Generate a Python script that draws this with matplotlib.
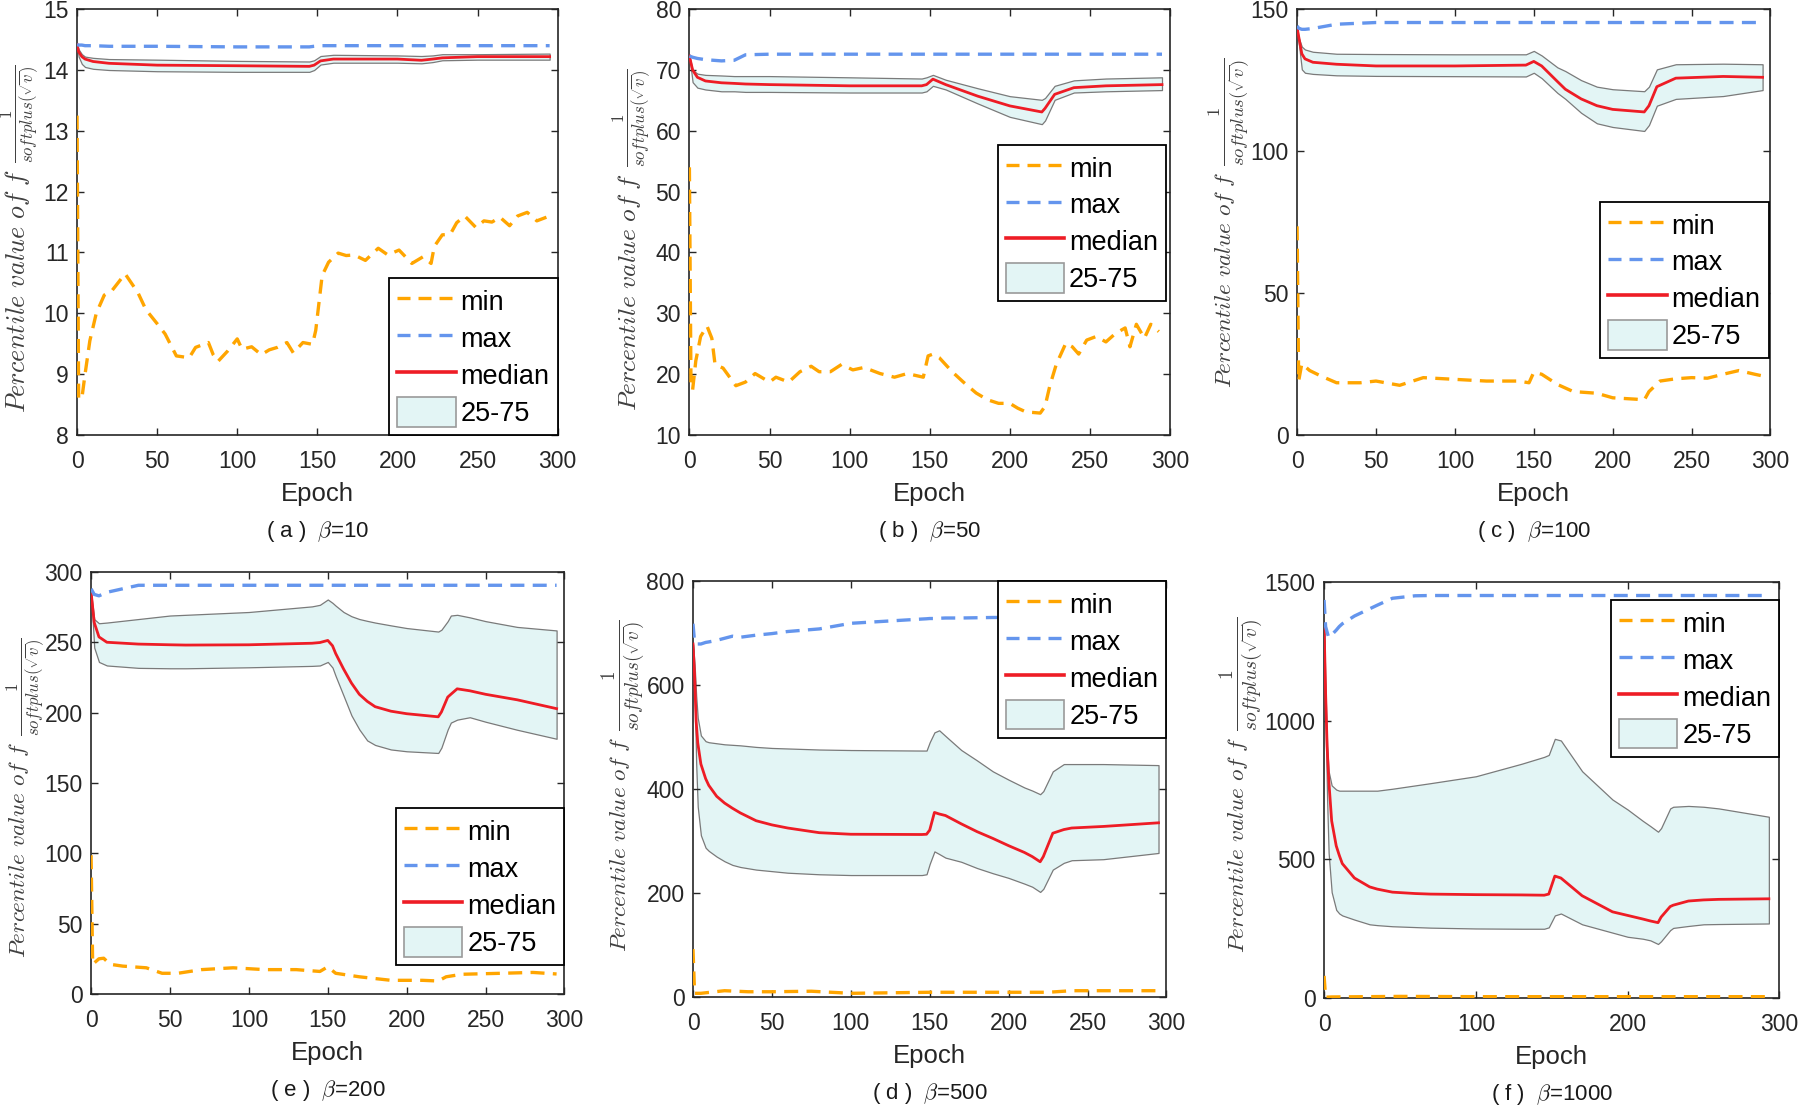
import matplotlib.pyplot as plt
from matplotlib.lines import Line2D
from matplotlib.patches import Patch
from matplotlib.transforms import IdentityTransform

plt.rcParams['font.family'] = ['Liberation Sans', 'DejaVu Sans']
plt.rcParams['mathtext.fontset'] = 'cm'

# ---- (a) beta = 10 ----
a_ep = [0, 1, 3, 5, 10, 20, 50, 100, 145, 148, 152, 160, 200, 215, 222, 228, 250, 295]
a_max = [14.42, 14.41, 14.41, 14.40, 14.40, 14.39, 14.39, 14.38, 14.38, 14.39, 14.40, 14.40, 14.40, 14.40, 14.40, 14.40, 14.40, 14.40]
a_med = [14.42, 14.30, 14.22, 14.18, 14.14, 14.11, 14.08, 14.07, 14.06, 14.08, 14.15, 14.18, 14.18, 14.16, 14.18, 14.20, 14.22, 14.22]
a_p75 = [14.42, 14.34, 14.26, 14.22, 14.20, 14.18, 14.17, 14.15, 14.14, 14.16, 14.23, 14.25, 14.24, 14.23, 14.24, 14.26, 14.26, 14.27]
a_p25 = [14.42, 14.22, 14.10, 14.05, 14.02, 14.00, 13.98, 13.97, 13.97, 14.00, 14.09, 14.12, 14.12, 14.11, 14.13, 14.16, 14.17, 14.17]
a_min_ep = [0, 1, 3, 5, 8, 12, 17, 22, 30, 38, 43, 50, 55, 62, 70, 74, 82, 85, 88, 94,
            100, 103, 109, 115, 120, 125, 131, 135, 141, 147, 149, 151, 153, 157, 163, 168, 173, 180, 188, 194,
            201, 209, 216, 221, 223, 228, 233, 237, 242, 249, 254, 259, 264, 270, 275, 281, 287, 293]
a_min = [13.25, 8.6, 8.6, 9.0, 9.55, 10.0, 10.3, 10.38, 10.65, 10.34, 10.06, 9.83, 9.66, 9.30, 9.27, 9.44, 9.52, 9.32, 9.21, 9.38,
         9.58, 9.41, 9.45, 9.32, 9.40, 9.44, 9.52, 9.35, 9.52, 9.49, 9.72, 10.17, 10.62, 10.84, 10.99, 10.95, 10.96, 10.87, 11.07, 10.96,
         11.04, 10.82, 10.93, 10.82, 11.10, 11.29, 11.30, 11.49, 11.60, 11.41, 11.52, 11.50, 11.58, 11.44, 11.60, 11.66, 11.52, 11.58]

# ---- (b) beta = 50 ----
b_ep = [0, 2, 5, 10, 20, 28, 35, 50, 100, 145, 148, 152, 160, 180, 200, 220, 222, 228, 240, 260, 295]
b_max = [72.3, 72.1, 71.9, 71.7, 71.5, 71.6, 72.5, 72.6, 72.6, 72.6, 72.6, 72.6, 72.6, 72.6, 72.6, 72.6, 72.6, 72.6, 72.6, 72.6, 72.6]
b_med = [72.3, 70.0, 68.8, 68.2, 67.9, 67.8, 67.7, 67.6, 67.4, 67.4, 67.6, 68.5, 67.6, 65.7, 64.1, 63.1, 63.7, 66.0, 67.1, 67.4, 67.6]
b_p75 = [72.3, 70.0, 69.4, 69.2, 69.1, 69.0, 69.0, 69.0, 68.8, 68.6, 68.8, 69.2, 68.4, 67.0, 65.7, 65.1, 65.4, 67.4, 68.3, 68.6, 68.8]
b_p25 = [72.3, 68.0, 67.1, 66.8, 66.5, 66.5, 66.4, 66.4, 66.3, 66.3, 66.5, 67.4, 66.8, 64.5, 62.3, 61.1, 61.7, 65.1, 66.3, 66.5, 66.7]
b_min_ep = [0, 1, 2, 4, 7, 11, 14, 16, 21, 29, 35, 41, 50, 54, 62, 69, 76, 81, 88, 95,
            102, 109, 119, 128, 136, 146, 149, 152, 156, 164, 171, 179, 186, 193, 200, 205, 210, 219, 222, 225,
            229, 235, 239, 243, 248, 254, 260, 266, 272, 275, 279, 284, 288, 293]
b_min = [54.0, 18.0, 17.4, 22.2, 26.2, 27.9, 25.9, 21.6, 21.0, 18.1, 18.7, 20.1, 18.7, 19.5, 18.7, 20.4, 21.3, 20.4, 20.4, 21.6,
         20.7, 21.1, 20.1, 19.5, 20.1, 19.5, 23.0, 23.3, 22.7, 20.4, 18.7, 16.9, 15.8, 15.2, 15.2, 14.4, 13.8, 13.6, 14.7, 18.1,
         21.6, 25.1, 24.5, 23.3, 25.6, 26.2, 25.3, 26.7, 27.6, 24.5, 28.2, 25.9, 28.2, 27.0]

# ---- (c) beta = 100 ----
c_ep = [0, 1, 3, 5, 10, 25, 50, 100, 145, 150, 155, 165, 170, 180, 190, 200, 220, 223, 228, 240, 270, 295]
c_max = [144.1, 143.3, 142.9, 142.9, 143.2, 144.7, 145.3, 145.3, 145.3, 145.3, 145.3, 145.3, 145.3, 145.3, 145.3, 145.3, 145.3, 145.3, 145.3, 145.3, 145.3, 145.3]
c_med = [143.5, 140.4, 134.3, 132.5, 131.3, 130.6, 130.0, 130.0, 130.3, 131.6, 130.0, 124.5, 121.8, 118.4, 116.0, 114.7, 113.8, 116.0, 122.7, 125.7, 126.3, 126.0]
c_p75 = [143.5, 140.0, 136.8, 135.8, 135.0, 134.3, 134.2, 134.1, 134.1, 135.3, 133.7, 129.5, 128.2, 125.0, 122.7, 121.8, 121.1, 122.7, 128.8, 130.6, 130.8, 130.6]
c_p25 = [143.5, 138.5, 128.8, 127.6, 127.2, 126.7, 126.5, 126.4, 126.3, 127.6, 125.7, 120.5, 118.4, 113.5, 109.8, 108.5, 107.1, 109.2, 116.0, 118.4, 119.4, 121.5]
c_min_ep = [0, 1, 3, 8, 15, 25, 40, 50, 65, 80, 100, 120, 140, 147, 150, 155, 165, 175, 190, 200,
            215, 220, 223, 230, 240, 250, 260, 270, 280, 290, 295]
c_min = [73.5, 19.0, 25.1, 22.7, 20.8, 18.4, 18.4, 19.0, 17.5, 20.2, 19.6, 19.0, 19.0, 18.4, 22.1, 21.4, 17.8, 15.3, 14.7, 13.1,
         12.6, 12.3, 15.3, 19.0, 19.8, 20.2, 20.0, 21.4, 22.7, 21.4, 20.8]

# ---- (e) beta = 200 ----
e_ep = [0, 2, 5, 10, 30, 50, 60, 100, 140, 145, 150, 153, 155, 160, 165, 170, 175, 180, 190, 200,
        220, 222, 226, 228, 232, 240, 250, 270, 295]
e_max = [288.0, 284.0, 283.0, 285.5, 290.5, 290.5, 290.5, 290.5, 290.5, 290.5, 290.5, 290.5, 290.5, 290.5, 290.5,
         290.5, 290.5, 290.5, 290.5, 290.5, 290.5, 290.5, 290.5, 290.5, 290.5, 290.5, 290.5, 290.5, 290.5]
e_med = [285.5, 264.0, 253.8, 250.0, 248.7, 248.2, 248.0, 248.2, 249.3, 249.8, 251.3, 247.5, 242.0, 231.0, 221.0,
         213.0, 208.0, 204.2, 201.0, 199.2, 197.0, 200.4, 211.0, 213.0, 216.9, 215.5, 213.0, 209.1, 202.8]
e_p75 = [285.5, 266.4, 263.5, 264.0, 266.5, 269.0, 269.5, 271.5, 275.5, 276.6, 280.4, 278.0, 276.0, 271.5, 268.5,
         266.5, 265.2, 264.0, 262.0, 260.1, 257.6, 258.9, 265.0, 269.0, 269.5, 267.7, 265.0, 260.9, 258.4]
e_p25 = [285.5, 246.2, 236.0, 233.5, 231.8, 231.5, 231.5, 232.2, 233.2, 233.5, 236.0, 232.0, 225.9, 212.0, 198.0,
         188.0, 180.2, 177.0, 173.8, 172.5, 171.3, 175.1, 188.0, 192.9, 195.0, 196.7, 193.5, 187.8, 181.4]
e_min_ep = [0, 1, 5, 8, 12, 20, 35, 45, 55, 70, 90, 110, 130, 145, 150, 155, 170, 190, 210, 220, 225, 235, 260, 280, 295]
e_min = [98.6, 21.1, 25.0, 25.4, 21.1, 19.8, 18.6, 14.7, 14.7, 17.3, 18.6, 17.3, 17.3, 16.0, 19.3, 14.7, 12.2, 9.7, 9.7, 9.2,
         12.2, 14.0, 14.7, 15.3, 14.2]

# ---- (d) beta = 500 ----
d_ep = [0, 1, 2, 3, 5, 8, 10, 15, 20, 25, 30, 40, 50, 60, 80, 100, 145, 148, 150, 153, 156, 160, 170,
        180, 190, 200, 210, 215, 220, 222, 228, 235, 240, 260, 295]
d_max = [718, 682, 680, 679, 679, 682, 683, 686, 690, 694, 692, 696, 699, 703, 708, 718.8, 727, 727.5, 728, 728, 728.5, 729, 729,
         729.5, 730, 730, 730, 730, 730, 730, 730, 730, 730, 730, 730]
d_med = [679, 619, 530, 489, 448, 420, 407, 386, 373, 363, 354, 339, 331, 325, 316, 313, 312.5, 313, 321, 355, 352, 349, 333,
         318, 305, 291, 278, 270, 260, 270, 315, 322, 325, 328, 335]
d_p75 = [679, 640, 580, 537, 503, 492, 490, 488, 486, 485, 484, 481, 479, 478, 476, 475, 474, 474, 490, 509, 513, 502, 475,
         455, 434, 418, 403, 397, 390, 396, 434, 448, 448, 448, 446]
d_p25 = [679, 600, 450, 366, 311, 287, 281, 270, 261, 254, 250, 245, 242, 239, 236, 234.5, 234.5, 236, 256, 280, 275, 268, 260,
         248, 238, 229, 218, 212, 202, 208, 245, 258, 263, 265, 277]
d_min_ep = [0, 1, 5, 20, 35, 50, 75, 100, 125, 150, 175, 200, 225, 240, 260, 295]
d_min = [92, 7, 7, 12, 10, 10, 11, 7, 8, 9, 9, 9, 9, 12, 12, 12]

# ---- (f) beta = 1000 ----
f_ep = [0, 1, 2, 3, 5, 8, 10, 12, 20, 30, 35, 45, 60, 70, 100, 130, 145, 148, 152, 156,
        170, 190, 200, 210, 215, 220, 222, 228, 230, 240, 250, 260, 293]
f_max = [1436, 1340, 1320, 1301, 1310, 1327, 1340, 1350, 1378, 1404, 1417, 1442, 1451, 1452, 1452, 1452, 1452, 1452, 1452, 1452,
         1452, 1452, 1452, 1452, 1452, 1452, 1452, 1452, 1452, 1452, 1452, 1452, 1452]
f_med = [1340, 1100, 909, 792, 639, 549, 515, 485, 433, 401, 393, 382, 377, 375, 373, 372, 371, 375, 440, 433,
         369, 311, 298, 285, 278, 272, 292, 330, 335, 350, 354, 356, 358]
f_p75 = [1340, 1100, 909, 818, 767, 752, 748, 748, 748, 748, 748, 755, 767, 775, 800, 845, 870, 877, 935, 929,
         818, 716, 680, 639, 620, 600, 613, 684, 690, 693, 690, 684, 654]
f_p25 = [1340, 1000, 716, 523, 382, 318, 305, 298, 283, 266, 263, 259, 256, 254, 251, 250, 250, 255, 298, 305,
         266, 236, 221, 214, 208, 195, 205, 245, 253, 260, 266, 267, 269]
f_min_ep = [0, 1, 5, 50, 100, 150, 200, 250, 293]
f_min = [80, 3, 4, 6, 5, 5, 5, 5, 5]

captions = ['( a )  $\\beta$=10', '( b )  $\\beta$=50', '( c )  $\\beta$=100',
            '( e )  $\\beta$=200', '( d )  $\\beta$=500', '( f )  $\\beta$=1000']

ORANGE = '#FFA500'
BLUE = '#6495ED'
RED = '#EE1C25'
FILL = '#E3F5F5'
EDGE = '#7a7a7a'
DARK = '#262626'
LABEL = '#404040'
DASH = (4.2, 2.5)

YMAIN = r'$Percentile\ value\ of\ f$'
YFRAC = r'$\frac{1}{softplus(\sqrt{v})}$'

fig = plt.figure(figsize=(18, 11.06), dpi=100)
renderer = fig.canvas.get_renderer()
PX = IdentityTransform()

panels = [
    # rect, series, ylim, yticks, xticks, legend anchor,
    # y-label (baseline px left of axis, start px above axis bottom, main length px, fraction length px, fraction shift px)
    ([0.0428, 0.6067, 0.267, 0.385], (a_ep, a_max, a_med, a_p25, a_p75, a_min_ep, a_min), (8, 15), range(8, 16),
     range(0, 301, 50), ('lower right', (1.0, 0.0)), (52, 22, 244, 100, 4)),
    ([0.383, 0.6067, 0.267, 0.385], (b_ep, b_max, b_med, b_p25, b_p75, b_min_ep, b_min), (10, 80), range(10, 81, 10),
     range(0, 301, 50), ('upper right', (0.992, 0.682)), (53, 24, 238, 100, 3)),
    ([0.7206, 0.6067, 0.263, 0.385], (c_ep, c_max, c_med, c_p25, c_p75, c_min_ep, c_min), (0, 150), range(0, 151, 50),
     range(0, 301, 50), ('upper right', (0.996, 0.548)), (66, 47, 216, 110, 0)),
    ([0.0506, 0.1013, 0.263, 0.3816], (e_ep, e_max, e_med, e_p25, e_p75, e_min_ep, e_min), (0, 300), range(0, 301, 50),
     range(0, 301, 50), ('upper right', (1.0, 0.44)), (66, 36, 216, 100, -2)),
    ([0.385, 0.0986, 0.263, 0.376], (d_ep, d_max, d_med, d_p25, d_p75, d_min_ep, d_min), (0, 800), range(0, 801, 200),
     range(0, 301, 50), ('upper right', (1.0, 1.0)), (67, 45, 215, 113, 0)),
    ([0.7356, 0.0976, 0.253, 0.376], (f_ep, f_max, f_med, f_p25, f_p75, f_min_ep, f_min), (0, 1500), range(0, 1501, 500),
     range(0, 301, 100), ('upper right', (1.0, 0.957)), (80, 45, 216, 116, 0)),
]

handles = [
    Line2D([], [], color=ORANGE, lw=2.4, dashes=(3.9, 2.4)),
    Line2D([], [], color=BLUE, lw=2.4, dashes=(3.9, 2.4)),
    Line2D([], [], color=RED, lw=2.6),
    Patch(facecolor=FILL, edgecolor='#9a9a9a', lw=1.2),
]
labels = ['min', 'max', 'median', '25-75']


def ylabel_parts(ax, base_off, start_off, main_len, frac_len, shift):
    # rotated label in two pieces: the italic words, then a small fraction on the same baseline
    pos = ax.get_position()
    W, H = fig.bbox.width, fig.bbox.height
    xb = pos.x0 * W - base_off
    y0 = pos.y0 * H + start_off
    t = fig.text(xb, y0, YMAIN, transform=PX, rotation=90, rotation_mode='anchor',
                 ha='left', va='baseline', fontsize=20, color=LABEL)
    t.set_fontsize(20 * main_len / t.get_window_extent(renderer).height)
    top = t.get_window_extent(renderer).y1
    fr = fig.text(xb - shift, top + 6, YFRAC, transform=PX, rotation=90, rotation_mode='anchor',
                  ha='left', va='baseline', fontsize=12, color=LABEL)
    fr.set_fontsize(12 * frac_len / fr.get_window_extent(renderer).height)


for (rect, series, ylim, yticks, xticks, (loc, anchor), lab), cap in zip(panels, captions):
    ep, mx, med, p25, p75, min_ep, mn = series
    ax = fig.add_axes(rect)
    ax.fill_between(ep, p25, p75, facecolor=FILL, edgecolor=EDGE, linewidth=0.9, zorder=1)
    ax.plot(ep, med, color=RED, lw=2, zorder=3)
    ax.plot(min_ep, mn, color=ORANGE, lw=2.4, dashes=DASH, zorder=4)
    ax.plot(ep, mx, color=BLUE, lw=2.4, dashes=DASH, zorder=4)

    ax.set_xlim(0, 300)
    ax.set_ylim(*ylim)
    ax.set_xticks(list(xticks))
    ax.set_yticks(list(yticks))
    ax.tick_params(direction='in', top=True, right=True, length=5, width=1,
                   labelsize=16.5, colors=DARK)
    ax.tick_params(axis='x', pad=11)
    ax.tick_params(axis='y', pad=6)
    for s in ax.spines.values():
        s.set_color(DARK)
        s.set_linewidth(1.2)
    ax.set_xlabel('Epoch', fontsize=18.5, color=DARK, labelpad=6)
    ylabel_parts(ax, *lab)

    leg = ax.legend(handles, labels, loc=loc, bbox_to_anchor=anchor, borderaxespad=0,
                    fontsize=19.5, fancybox=False, framealpha=1, edgecolor='black',
                    handlelength=2.15, handleheight=1.3, handletextpad=0.18,
                    labelspacing=0.26, borderpad=0.3)
    leg.get_frame().set_linewidth(1.3)
    leg.set_zorder(10)

    pos = ax.get_position()
    fig.text(pos.x0 + pos.width / 2, pos.y0 - 0.087, cap, ha='center', va='center',
             fontsize=16, color='#1a1a1a')

fig.savefig('out.png', dpi=100)
